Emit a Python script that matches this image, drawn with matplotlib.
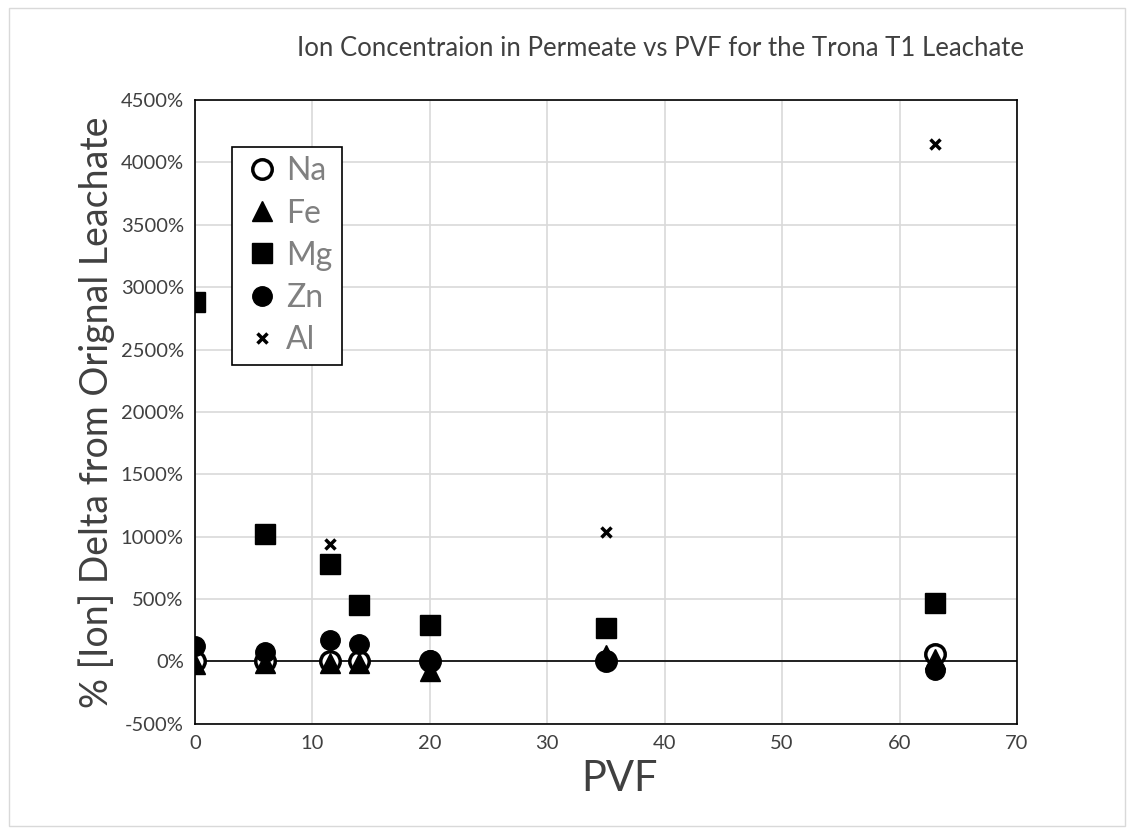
import matplotlib.pyplot as plt
from matplotlib.ticker import FuncFormatter
from matplotlib.patches import Rectangle

plt.rcParams['font.family'] = ['Lato', 'DejaVu Sans']

# PVF sampling points
pvf = [0, 6, 11.5, 14, 20, 35, 63]

# % delta from original leachate, per ion
na = [0, 0, 0, 0, 0, 0, 60]
fe = [-20, -10, -10, -10, -75, 50, 20]
mg = [2880, 1020, 780, 450, 290, 270, 470]
zn = [120, 75, 170, 140, 10, 10, -70]
al_pvf = [11.5, 35, 63]
al = [940, 1040, 4150]

fig = plt.figure(figsize=(11.33, 8.3), dpi=100)
ax = fig.add_axes([0.172, 0.128, 0.7256, 0.7515])

ax.plot(pvf, na, 'o', ms=14, mfc='white', mec='black', mew=2.5, ls='none', label='Na', zorder=3)
ax.plot(pvf, fe, '^', ms=15, color='black', ls='none', label='Fe', zorder=4)
ax.plot(pvf, mg, 's', ms=15, color='black', ls='none', label='Mg', zorder=5)
ax.plot(pvf, zn, 'o', ms=14, color='black', ls='none', label='Zn', zorder=6)
ax.plot(al_pvf, al, 'x', ms=7, mew=2.5, color='black', ls='none', label='Al', zorder=7)

ax.set_xlim(0, 70)
ax.set_ylim(-500, 4500)
ax.set_xticks(range(0, 71, 10))
ax.set_yticks(range(-500, 4501, 500))
ax.yaxis.set_major_formatter(FuncFormatter(lambda v, p: '%d%%' % v))
ax.tick_params(length=0, labelsize=14.5, colors='#404040', pad=8)
ax.grid(True, color='#d9d9d9', lw=1.2)
ax.set_axisbelow(True)
ax.axhline(0, color='black', lw=1.2, zorder=2)
for s in ax.spines.values():
    s.set_color('black')
    s.set_linewidth(1.2)

ax.set_title('Ion Concentraion in Permeate vs PVF for the Trona T1 Leachate',
             fontsize=18.5, color='#404040', pad=32, x=0.566)
ax.set_xlabel('PVF', fontsize=30, color='#404040', labelpad=6, x=0.517)
ax.set_ylabel('% [Ion] Delta from Orignal Leachate', fontsize=27, color='#404040', labelpad=4)

leg = ax.legend(loc='upper left', bbox_to_anchor=(0.045, 0.925), borderaxespad=0,
                fontsize=23, frameon=True, fancybox=False, edgecolor='black', framealpha=1,
                handletextpad=0.1, labelspacing=0.38, borderpad=0.3, handlelength=1.3)
leg.get_frame().set_linewidth(1.2)
for t in leg.get_texts():
    t.set_color('#808080')

fig.patches.append(Rectangle((0.008, 0.005), 0.985, 0.985, transform=fig.transFigure,
                             fill=False, edgecolor='#d9d9d9', lw=1))

fig.savefig('out.png', dpi=100)
